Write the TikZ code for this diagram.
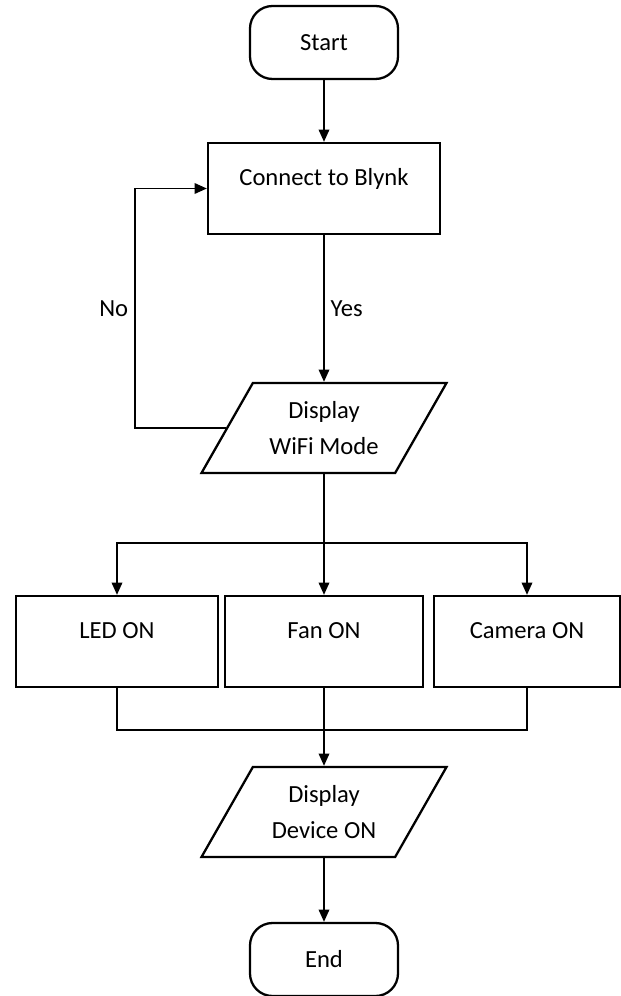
\documentclass[tikz,border=0pt]{standalone}
\usepackage{fontspec}
\setmainfont{Carlito}
\usetikzlibrary{arrows.meta}
\usetikzlibrary{shapes.geometric}
\usetikzlibrary{calc}
\usetikzlibrary{positioning}

\begin{document}
\begin{tikzpicture}[-,>={Triangle[length=7pt,width=6pt]},line width=1pt,auto,node distance=2.9cm,font=\fontsize{14}{20}\selectfont]
 \tikzstyle{term}=[draw, rectangle, rounded corners=0.45cm, minimum width=2.96cm, minimum height=1.46cm, line width=1.3pt]
 \tikzstyle{proc}=[draw, rectangle, minimum height=1.82cm, text height=10pt, text depth=13pt, line width=1.3pt]
 \tikzstyle{io}=[draw, trapezium, trapezium left angle=51.3, trapezium right angle=128.7, trapezium stretches body, minimum width=4.9cm, minimum height=1.8cm, align=center, line width=1.3pt]
 \useasboundingbox (-6.48,0.85) rectangle (5.94,-19.07);
   \node[term]      (start)                                               {Start};
   \node[proc, minimum width=4.64cm] (connect) [node distance=2.92cm, below of=start]  {Connect to Blynk};
   \node[io]        (wifi)    [node distance=4.79cm, below of=connect]    {Display\\WiFi Mode};
   \node[proc, minimum width=3.96cm] (fan)     [node distance=4.27cm, below of=wifi]     {Fan ON};
   \node[proc, minimum width=4.04cm] (led)     [node distance=4.14cm, left of=fan]       {LED ON};
   \node[proc, minimum width=3.72cm] (cam)     [node distance=4.06cm, right of=fan]      {Camera ON};
   \node[io]        (device)  [node distance=3.41cm, below of=fan]        {Display\\Device ON};
   \node[term]      (end)     [node distance=2.95cm, below of=device]     {End};
   \coordinate (split) at ($(wifi.south)+(0,-1.38)$);
   \coordinate (join)  at ($(fan.south)+(0,-0.84)$);
  \draw[->] (start) -- (connect);
  \draw[->] (connect) -- node[right] {Yes} (wifi);
  \draw[->] (wifi.west) -- ++(-1.82,0) |- node[left, pos=0.25] {No} (connect.west);
  \draw[->] (wifi) -- (fan);
  \draw[->] (split) -| (led.north);
  \draw[->] (split) -| (cam.north);
  \draw (led.south) |- (join) -| (cam.south);
  \draw[->] (fan) -- (device);
  \draw[->] (device) -- (end);
\end{tikzpicture}
\end{document}
